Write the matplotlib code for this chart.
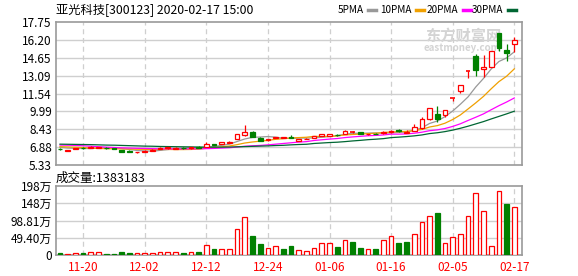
import matplotlib
matplotlib.use("Agg")
import matplotlib.pyplot as plt
import numpy as np

plt.rcParams['font.family'] = ['Noto Sans CJK SC', 'DejaVu Sans']

# ---- data ----
dates = ["11-15", "11-18", "11-19", "11-20", "11-21", "11-22", "11-25", "11-26", "11-27", "11-28",
         "11-29", "12-02", "12-03", "12-04", "12-05", "12-06", "12-09", "12-10", "12-11", "12-12",
         "12-13", "12-16", "12-17", "12-18", "12-19", "12-20", "12-23", "12-24", "12-25", "12-26",
         "12-27", "12-30", "12-31", "01-02", "01-03", "01-06", "01-07", "01-08", "01-09", "01-10",
         "01-13", "01-14", "01-15", "01-16", "01-17", "01-20", "01-21", "01-22", "01-23", "02-03",
         "02-04", "02-05", "02-06", "02-07", "02-10", "02-11", "02-12", "02-13", "02-14", "02-17"]

opens = [6.76, 6.58, 6.76, 6.82, 6.80, 6.82, 6.84, 6.80, 6.64, 6.58,
         6.42, 6.50, 6.58, 6.75, 6.78, 6.76, 6.84, 6.78, 6.91, 6.93,
         7.15, 7.15, 7.25, 7.60, 7.95, 8.22, 7.71, 7.47, 7.70, 7.68,
         7.80, 7.45, 7.58, 7.71, 7.88, 7.89, 7.96, 8.05, 8.18, 8.16,
         7.98, 8.05, 8.08, 8.18, 8.40, 8.14, 8.31, 8.52, 9.33, 9.76,
         9.65, 11.12, 11.76, 13.48, 14.80, 13.64, 13.87, 16.77, 15.32, 15.85]
highs = [6.80, 6.66, 6.84, 6.85, 6.94, 6.90, 6.86, 6.82, 6.66, 6.60,
         6.50, 6.60, 6.70, 6.88, 6.88, 6.86, 6.86, 6.90, 6.94, 7.30,
         7.18, 7.33, 7.42, 8.05, 8.80, 8.24, 7.73, 7.62, 7.80, 7.78,
         7.92, 7.58, 7.66, 7.84, 8.06, 8.05, 8.00, 8.34, 8.25, 8.20,
         8.06, 8.10, 8.32, 8.38, 8.48, 8.36, 8.89, 9.53, 10.30, 10.45,
         10.15, 11.12, 12.30, 13.48, 14.94, 14.88, 15.25, 16.77, 15.84, 16.43]
lows = [6.64, 6.54, 6.74, 6.74, 6.78, 6.79, 6.76, 6.72, 6.45, 6.44,
        6.38, 6.48, 6.56, 6.73, 6.76, 6.74, 6.76, 6.76, 6.80, 6.90,
        7.04, 7.12, 7.22, 7.56, 7.84, 7.74, 7.42, 7.42, 7.66, 7.64,
        7.66, 7.40, 7.55, 7.70, 7.86, 7.82, 7.88, 8.02, 8.12, 8.02,
        7.95, 7.98, 8.05, 8.15, 8.20, 8.08, 8.28, 8.48, 9.28, 9.10,
        9.54, 10.89, 11.61, 12.91, 13.06, 13.00, 13.80, 15.23, 14.39, 15.13]
closes = [6.68, 6.64, 6.82, 6.78, 6.90, 6.87, 6.80, 6.76, 6.48, 6.47,
          6.45, 6.57, 6.66, 6.84, 6.85, 6.82, 6.79, 6.86, 6.83, 7.12,
          7.07, 7.30, 7.36, 8.01, 8.22, 7.77, 7.44, 7.58, 7.76, 7.72,
          7.69, 7.56, 7.63, 7.82, 7.99, 7.99, 7.90, 8.30, 8.20, 8.05,
          8.03, 8.00, 8.19, 8.32, 8.26, 8.22, 8.66, 9.33, 10.25, 9.30,
          10.11, 11.12, 12.25, 13.48, 13.58, 13.81, 15.23, 15.52, 15.03, 16.20]

ma5 = [6.86, 6.80, 6.78, 6.76, 6.76, 6.80, 6.83, 6.82, 6.76, 6.68,
       6.59, 6.55, 6.53, 6.60, 6.67, 6.75, 6.79, 6.83, 6.83, 6.88,
       6.93, 7.04, 7.14, 7.37, 7.59, 7.73, 7.76, 7.80, 7.75, 7.65,
       7.64, 7.66, 7.67, 7.68, 7.74, 7.80, 7.87, 8.00, 8.08, 8.09,
       8.10, 8.12, 8.09, 8.12, 8.16, 8.20, 8.33, 8.56, 8.94, 9.15,
       9.53, 10.02, 10.61, 11.25, 12.11, 12.85, 13.67, 14.32, 14.63, 15.16]
ma10 = [6.92, 6.90, 6.88, 6.85, 6.80, 6.77, 6.75, 6.74, 6.73, 6.72,
        6.70, 6.69, 6.67, 6.68, 6.68, 6.67, 6.67, 6.68, 6.71, 6.78,
        6.84, 6.91, 6.98, 7.10, 7.24, 7.33, 7.40, 7.47, 7.56, 7.62,
        7.68, 7.71, 7.74, 7.82, 7.80, 7.82, 7.86, 7.94, 7.98, 8.01,
        8.05, 8.09, 8.15, 8.20, 8.22, 8.25, 8.32, 8.42, 8.63, 8.75,
        8.96, 9.28, 9.68, 10.20, 10.73, 11.29, 11.95, 12.57, 13.04, 13.68]
ma20 = [7.06, 7.05, 7.03, 7.00, 6.96, 6.92, 6.88, 6.85, 6.82, 6.80,
        6.78, 6.77, 6.75, 6.74, 6.73, 6.73, 6.73, 6.74, 6.74, 6.75,
        6.77, 6.80, 6.83, 6.89, 6.96, 7.00, 7.03, 7.08, 7.14, 7.20,
        7.26, 7.32, 7.36, 7.46, 7.52, 7.58, 7.63, 7.71, 7.77, 7.82,
        7.87, 7.90, 7.94, 8.01, 8.01, 8.03, 8.09, 8.18, 8.31, 8.38,
        8.50, 8.68, 8.91, 9.20, 9.48, 9.77, 10.13, 10.48, 10.80, 11.15]
ma30 = [7.14, 7.13, 7.12, 7.11, 7.10, 7.08, 7.06, 7.05, 7.03, 7.01,
        6.99, 6.97, 6.96, 6.94, 6.93, 6.92, 6.91, 6.90, 6.89, 6.88,
        6.88, 6.88, 6.89, 6.91, 6.93, 6.95, 6.97, 6.99, 7.02, 7.04,
        7.08, 7.11, 7.13, 7.20, 7.24, 7.28, 7.31, 7.36, 7.42, 7.47,
        7.53, 7.57, 7.62, 7.71, 7.75, 7.80, 7.86, 7.94, 8.06, 8.13,
        8.23, 8.36, 8.52, 8.70, 8.90, 9.10, 9.33, 9.55, 9.77, 10.00]

# volume in 万 shares, and whether the bar is drawn red (1) or green (0)
volume = [5.7, 2.0, 5.5, 5.5, 8.5, 8.5, 3.0, 3.0, 8.0, 5.5,
          5.5, 5.5, 5.5, 8.0, 8.0, 8.0, 5.5, 8.0, 9.0, 28.6,
          17.0, 17.0, 17.0, 74.5, 109.0, 54.0, 31.5, 20.0, 26.0, 18.0,
          26.0, 13.0, 10.5, 20.0, 33.5, 33.5, 23.0, 42.0, 37.0, 20.0,
          16.0, 17.0, 42.0, 53.5, 34.0, 37.0, 59.0, 93.5, 111.0, 120.0,
          33.5, 50.6, 59.0, 111.0, 176.7, 125.0, 25.0, 182.4, 145.0, 138.3183]
vol_up = [0, 1, 1, 0, 1, 1, 0, 0, 0, 0,
          1, 1, 1, 1, 1, 1, 0, 1, 0, 1,
          0, 1, 1, 1, 1, 0, 0, 1, 1, 0,
          0, 1, 1, 1, 1, 1, 0, 1, 0, 0,
          1, 0, 1, 1, 0, 0, 1, 1, 1, 0,
          1, 1, 1, 1, 1, 1, 1, 1, 0, 1]

price_ticks = [5.33, 6.88, 8.43, 9.99, 11.54, 13.09, 14.65, 16.20, 17.75]
vol_ticks = [0, 49.405, 98.81, 148.215, 197.62]
vol_tick_labels = ["0", "49.40万", "98.81万", "148万", "198万"]

RED = "#ff0000"
GREEN = "#008000"
GRID = "#cfcfcf"
SPINE = "#9a9a9a"
ma_colors = {"5PMA": "#999999", "10PMA": "#f0a000", "20PMA": "#ff00ff", "30PMA": "#006633"}

W, H = 578, 276
fig = plt.figure(figsize=(W / 100, H / 100), dpi=100)
fig.patch.set_facecolor("white")


def fx(px):
    return px / W


def fy(py):
    return 1 - py / H


ax_p = fig.add_axes([fx(56), fy(165), fx(522) - fx(56), fy(22) - fy(165)])
ax_v = fig.add_axes([fx(56), fy(255), fx(522) - fx(56), fy(186) - fy(255)])

x = np.arange(len(closes))
tick_idx = list(range(3, len(dates), 8))

for ax in (ax_p, ax_v):
    ax.set_xlim(-0.52, len(closes))
    for s in ax.spines.values():
        s.set_color(SPINE)
        s.set_linewidth(1.2)
    for t in tick_idx:
        ax.axvline(t, color=GRID, lw=0.9, ls=(0, (4, 3)), zorder=0)
    ax.tick_params(length=0, labelsize=8.5, pad=3)

# ---- price panel ----
ax_p.set_ylim(price_ticks[0], price_ticks[-1])
ax_p.set_yticks(price_ticks)
ax_p.set_yticklabels([f"{v:.2f}" for v in price_ticks])
ax_p.set_xticks([])
for v in price_ticks[1:-1]:
    ax_p.axhline(v, color=GRID, lw=1.0, zorder=0)

for name, vals in zip(ma_colors, (ma5, ma10, ma20, ma30)):
    ax_p.plot(x, vals, color=ma_colors[name], lw=0.9, zorder=2)

bw = 0.62
for i in x:
    o, h, l, c = opens[i], highs[i], lows[i], closes[i]
    up = c >= o
    col = RED if up else GREEN
    top, bot = max(o, c), min(o, c)
    if abs(c - o) < 0.02:
        ax_p.hlines(c, i - bw / 2, i + bw / 2, color=col, lw=1.2, zorder=3)
        ax_p.vlines(i, l, h, color=col, lw=0.9, zorder=3)
        continue
    ax_p.vlines(i, top, h, color=col, lw=0.9, zorder=3)
    ax_p.vlines(i, l, bot, color=col, lw=0.9, zorder=3)
    ax_p.bar(i, top - bot, bottom=bot, width=bw, facecolor="white" if up else GREEN,
             edgecolor=col, lw=0.9, zorder=4)

# watermark
ax_p.text(0.955, 0.905, "东方财富网", transform=ax_p.transAxes, ha="right", va="center",
          fontsize=11, color="#d4d4d4", fontweight="bold", zorder=1)
ax_p.text(0.955, 0.82, "eastmoney.com", transform=ax_p.transAxes, ha="right", va="center",
          fontsize=7, color="#d4d4d4", fontweight="bold", zorder=1)

# ---- volume panel ----
ax_v.set_ylim(0, vol_ticks[-1])
ax_v.set_yticks(vol_ticks)
ax_v.set_yticklabels(vol_tick_labels)
for v in vol_ticks[1:-1]:
    ax_v.axhline(v, color=GRID, lw=1.0, zorder=0)
for i in x:
    if vol_up[i]:
        ax_v.bar(i, volume[i], width=0.6, facecolor="white", edgecolor=RED, lw=0.9, zorder=3)
    else:
        ax_v.bar(i, volume[i], width=0.6, facecolor=GREEN, edgecolor=GREEN, lw=0.9, zorder=3)
ax_v.set_xticks(tick_idx)
ax_v.set_xticklabels([dates[t] for t in tick_idx], color=RED)
ax_v.tick_params(axis="x", pad=4)

# ---- header texts ----
fig.text(fx(56), fy(10), "亚光科技[300123] 2020-02-17 15:00", fontsize=8.8, va="center", ha="left")
fig.text(fx(56), fy(178), "成交量:1383183", fontsize=9, va="center", ha="left")

# legend: name followed by a short coloured dash
renderer = fig.canvas.get_renderer()
leg_x = [338, 380, 427, 472]
for lx, name in zip(leg_x, ma_colors):
    t = fig.text(fx(lx), fy(10), name, fontsize=7.2, va="center", ha="left")
    end_px = t.get_window_extent(renderer).x1
    fig.add_artist(plt.Line2D([fx(end_px + 4), fx(end_px + 12)], [fy(10), fy(10)],
                              color=ma_colors[name], lw=2.5, transform=fig.transFigure))

fig.savefig("out.png", dpi=100, facecolor="white")
